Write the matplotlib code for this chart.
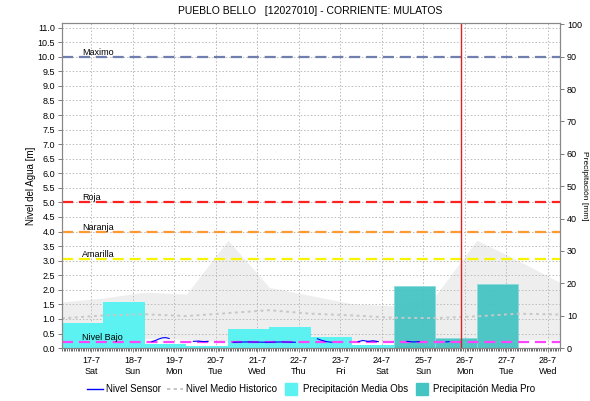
import matplotlib
matplotlib.use("Agg")
import matplotlib.pyplot as plt
import matplotlib.dates as mdates
import matplotlib.transforms as mtransforms
from matplotlib.lines import Line2D
import numpy as np
import pandas as pd

title = "PUEBLO BELLO   [12027010] - CORRIENTE: MULATOS"

tick_days = ["17-7", "18-7", "19-7", "20-7", "21-7", "22-7",
             "23-7", "24-7", "25-7", "26-7", "27-7", "28-7"]
tick_weekdays = ["Sat", "Sun", "Mon", "Tue", "Wed", "Thu",
                 "Fri", "Sat", "Sun", "Mon", "Tue", "Wed"]

# daily precipitation windows start at 07:00
day_starts = ["2021-07-16 07:00", "2021-07-17 07:00", "2021-07-18 07:00",
              "2021-07-19 07:00", "2021-07-20 07:00", "2021-07-21 07:00",
              "2021-07-22 07:00", "2021-07-23 07:00", "2021-07-24 07:00",
              "2021-07-25 07:00", "2021-07-26 07:00", "2021-07-27 07:00",
              "2021-07-28 07:00"]

precip_obs = [7.7, 14.2, 1.3, 0.5, 5.8, 6.5, 3.4, 1.1, 0.5, 0.0, 0.0, 0.0]
precip_pro = [0.0, 0.0, 0.0, 0.0, 0.0, 0.0, 0.0, 0.0, 19.2, 3.1, 19.9, 0.0]

hist_upper = [1.58, 1.72, 1.92, 1.85, 3.7, 2.08, 1.8, 1.52, 1.45, 1.8, 3.7, 3.0, 2.25]
hist_lower = [0.3, 0.3, 0.33, 0.3, 0.22, 0.25, 0.28, 0.28, 0.25, 0.25, 0.28, 0.3, 0.3]
hist_mean = [1.02, 1.12, 1.16, 1.1, 1.2, 1.3, 1.18, 1.12, 1.04, 1.03, 1.09, 1.18, 1.15]

sensor_times = ["2021-07-18 11:00", "2021-07-18 13:00", "2021-07-18 15:00",
                "2021-07-18 17:00", "2021-07-18 19:00", "2021-07-18 21:00",
                "2021-07-18 23:00",
                "2021-07-19 11:00", "2021-07-19 14:00", "2021-07-19 17:00",
                "2021-07-19 19:30", "2021-07-19 21:00",
                "2021-07-20 10:00", "2021-07-20 18:00", "2021-07-21 06:00",
                "2021-07-21 14:00", "2021-07-21 22:00", "2021-07-22 02:00",
                "2021-07-22 10:45", "2021-07-22 13:00", "2021-07-22 16:00",
                "2021-07-22 19:00", "2021-07-22 22:00",
                "2021-07-23 10:20", "2021-07-23 13:00", "2021-07-23 16:00",
                "2021-07-23 19:00", "2021-07-23 22:00", "2021-07-24 02:00",
                "2021-07-24 14:30", "2021-07-24 18:00", "2021-07-24 21:40",
                "2021-07-24 23:00",
                "2021-07-25 13:00", "2021-07-25 15:00"]
sensor_level = [0.22, 0.26, 0.31, 0.35, 0.36, 0.33, np.nan,
                0.23, 0.24, 0.22, 0.23, np.nan,
                0.2, 0.21, 0.2, 0.21, 0.2, np.nan,
                0.32, 0.27, 0.22, 0.2, np.nan,
                0.22, 0.26, 0.23, 0.25, 0.22, np.nan,
                0.23, 0.21, 0.22, np.nan,
                0.21, 0.22]

now_time = "2021-07-25 21:40"

thresholds = [("Maximo", 10.0, "#6E7FB0"),
              ("Roja", 5.0, "#FF2020"),
              ("Naranja", 4.0, "#FF9933"),
              ("Amarilla", 3.05, "#F5F500"),
              ("Nivel Bajo", 0.2, "#FF44FF")]

obs_color = "#5CF2F2"
pro_color = "#45C4C4"

plt.rcParams["font.family"] = ["Liberation Sans", "DejaVu Sans"]

fig = plt.figure(figsize=(5.9, 4.01), dpi=100)
ax = fig.add_axes([0.105, 0.132, 0.844, 0.81])
ax2 = ax.twinx()

starts = pd.to_datetime(day_starts)
ticks = pd.to_datetime(["2021-07-" + d.split("-")[0] for d in tick_days])

# historic band and mean
ax.fill_between(starts, hist_lower, hist_upper, color="#EEEEEE", lw=0, zorder=0.3)

# precipitation bars scaled by the right axis
blend = mtransforms.blended_transform_factory(ax.transData, ax2.transData)
obs_x = [s for s, v in zip(starts[:-1], precip_obs) if v > 0]
obs_h = [v for v in precip_obs if v > 0]
pro_x = [s for s, v in zip(starts[:-1], precip_pro) if v > 0]
pro_h = [v for v in precip_pro if v > 0]
ax.bar(obs_x, obs_h, width=1.0, align="edge", color=obs_color, lw=0,
       transform=blend, zorder=1)
ax.bar(pro_x, pro_h, width=1.0, align="edge", color=pro_color, alpha=0.95,
       edgecolor="#8ADADA", lw=0.6, transform=blend, zorder=1.1)

ax.plot(starts, hist_mean, color="#C8C8C8", lw=1.4, ls=(0, (1.5, 1.8)), zorder=2)

for name, val, col in thresholds:
    ax.axhline(val, color=col, lw=1.6, ls=(0, (5, 2.6)), zorder=3)
    ax.text(0.04, val, name, transform=ax.get_yaxis_transform(), fontsize=6.5,
            va="bottom", ha="left", zorder=4)

ax.plot(pd.to_datetime(sensor_times), sensor_level, color="#0000FF", lw=0.8, zorder=5)
ax.axvline(pd.Timestamp(now_time), color="#E02020", lw=1.0, zorder=6)

ax.set_xlim(starts[0], starts[-1])
ax.set_ylim(0, 11.15)
ax2.set_ylim(0, 11.15 * 9)

ax.set_yticks(np.arange(0, 11.01, 0.5))
ax.set_yticklabels([f"{v:.1f}" for v in np.arange(0, 11.01, 0.5)])
ax2.set_yticks(np.arange(0, 101, 10))

ax.set_xticks(ticks)
ax.set_xticklabels([f"{d}\n{w}" for d, w in zip(tick_days, tick_weekdays)])
ax.xaxis.set_minor_locator(mdates.HourLocator())
ax.tick_params(axis="x", which="minor", length=2, width=0.5, color="#333333")

ax.grid(True, color="#BBBBBB", ls=(0, (1.5, 2)), lw=0.7)
ax.set_axisbelow(True)

for a in (ax, ax2):
    a.tick_params(labelsize=6.5, length=3, width=0.6, color="#666666", pad=2)
    for sp in a.spines.values():
        sp.set_color("#888888")
        sp.set_linewidth(0.8)
ax.tick_params(axis="x", which="major", length=3, pad=3)

ax.set_ylabel("Nivel del Agua [m]", fontsize=7, labelpad=1)
ax2.set_ylabel("Precipitación [mm]", fontsize=6, rotation=-90, va="center")
ax2.yaxis.set_label_coords(1.05, 0.5)
fig.suptitle(title, fontsize=7.5, y=0.985, x=0.525)

handles = [Line2D([], [], color="#0000FF", lw=1.0),
           Line2D([], [], color="#BBBBBB", lw=1.2, ls=(0, (2, 2))),
           Line2D([], [], marker="s", ls="none", markersize=8, color=obs_color),
           Line2D([], [], marker="s", ls="none", markersize=8, color=pro_color)]
labels = ["Nivel Sensor", "Nivel Medio Historico",
          "Precipitación Media Obs", "Precipitación Media Pro"]
fig.legend(handles, labels, loc="lower center", ncol=4, frameon=False, fontsize=7,
           bbox_to_anchor=(0.527, -0.005), handlelength=1.7, handletextpad=0.3,
           columnspacing=0.6)

fig.savefig("out.png", dpi=100)
